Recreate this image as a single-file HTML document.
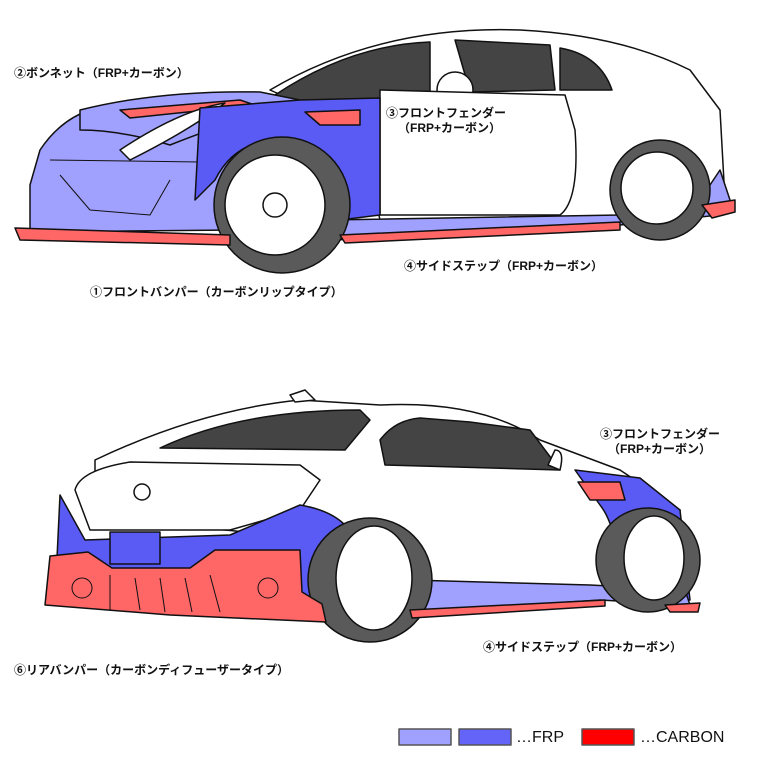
<!DOCTYPE html>
<html><head><meta charset="utf-8"><style>
body{margin:0;background:#fff;width:762px;height:762px;overflow:hidden;font-family:"Liberation Sans","Noto Sans CJK JP",sans-serif}
.t{position:absolute;font-size:12px;font-weight:bold;color:#111;white-space:nowrap;line-height:14px}
</style></head><body>
<svg width="762" height="762" style="position:absolute;left:0;top:0" stroke="#111" stroke-width="1.5" stroke-linejoin="round">
<!-- TOP CAR -->
<path d="M270,90 Q380,25 520,30 Q620,35 690,70 L720,110 L725,200 L700,215 L380,220 L360,130 Z" fill="#fff"/>
<path d="M275,95 Q350,45 430,42 L430,95 L300,105 Z" fill="#444"/>
<path d="M455,40 L550,45 L555,90 L470,92 Z" fill="#444"/>
<path d="M560,48 Q600,55 612,90 L560,90 Z" fill="#444"/>
<circle cx="455" cy="90" r="18" fill="#fff"/>
<path d="M380,90 L380,215 L560,215 Q580,200 575,130 L565,95 Z" fill="#fff"/>
<!-- front bumper light -->
<path d="M40,150 Q60,120 90,110 L230,100 L235,230 L30,232 L30,185 Z" fill="#a0a0ff"/>
<path d="M50,160 L200,162 M60,175 L90,210 L150,215 L170,180" fill="none" stroke-width="1"/>
<!-- hood -->
<path d="M80,110 Q160,90 260,92 L300,100 Q220,125 170,145 Q120,130 80,130 Z" fill="#a0a0ff"/>
<path d="M120,110 L240,100 L255,105 L130,118Z" fill="#ff6666"/>
<path d="M120,150 Q180,110 225,103 Q190,130 130,160Z" fill="#fff"/>
<!-- blue fender -->
<path d="M200,108 L300,100 L380,98 L380,215 L340,220 Q330,150 280,140 Q235,140 215,180 L195,200 Z" fill="#5a5af5"/>
<path d="M305,112 L360,110 L360,125 L320,125Z" fill="#ff6666"/>
<!-- side skirt -->
<path d="M330,220 L620,215 Q640,200 700,200 L720,170 L730,200 L720,215 L620,225 L335,240 Z" fill="#a0a0ff"/>
<!-- wheels -->
<circle cx="282" cy="205" r="68" fill="#5a5a5a"/>
<circle cx="275" cy="205" r="50" fill="#fff"/>
<circle cx="275" cy="205" r="12" fill="#fff"/>
<circle cx="660" cy="190" r="50" fill="#5a5a5a"/>
<circle cx="657" cy="188" r="36" fill="#fff"/>
<!-- red lips -->
<path d="M15,228 L230,235 L230,245 L20,240 Z" fill="#ff6666"/>
<path d="M340,235 L620,222 L620,230 L345,243 Z" fill="#ff6666"/>
<path d="M702,205 L735,200 L735,212 L712,218Z" fill="#ff6666"/>

<!-- BOTTOM CAR -->
<path d="M95,460 Q200,410 300,400 L380,405 Q480,400 540,440 L620,470 L680,510 L680,600 L600,600 L400,610 L330,540 L120,520 L95,490Z" fill="#fff"/>
<path d="M290,395 L305,390 L315,400 L295,402Z" fill="#fff"/>
<path d="M160,448 Q240,410 360,410 L370,420 L345,450 Z" fill="#444"/>
<path d="M380,440 Q395,420 420,418 L470,422 L530,430 L560,470 L385,465 Z" fill="#444"/>
<path d="M548,465 L555,450 Q565,450 560,470 Z" fill="#fff"/>
<path d="M75,490 Q80,470 130,462 L300,465 L320,480 L300,510 L230,530 L90,530 Z" fill="#fff"/>
<circle cx="142" cy="492" r="8" fill="#fff"/>
<!-- blue rear -->
<path d="M60,495 L85,540 L230,535 L300,505 Q330,510 345,525 L330,600 L160,610 L55,600 Z" fill="#5a5af5"/>
<rect x="110" y="532" width="50" height="32" fill="#5a5af5"/>
<!-- front fender blue -->
<path d="M575,470 L640,478 L680,510 L690,600 L620,600 Q620,530 600,505 Z" fill="#5a5af5"/>
<path d="M578,482 L620,482 L625,500 L590,500Z" fill="#ff6666"/>
<!-- side skirt -->
<path d="M410,580 L590,585 L685,590 L690,605 L600,600 L415,612 Z" fill="#a0a0ff"/>
<!-- wheels -->
<circle cx="370" cy="580" r="62" fill="#5a5a5a"/>
<ellipse cx="374" cy="578" rx="38" ry="52" fill="#fff"/>
<circle cx="648" cy="560" r="52" fill="#5a5a5a"/>
<ellipse cx="654" cy="558" rx="30" ry="42" fill="#fff"/>
<!-- diffuser -->
<path d="M50,556 L88,552 L112,568 L190,568 L215,550 L300,550 L302,592 L322,604 L326,622 L170,615 L45,605 Z" fill="#ff6666"/>
<circle cx="82" cy="588" r="10" fill="none" stroke-width="1"/>
<circle cx="268" cy="588" r="10" fill="none" stroke-width="1"/>
<path d="M110,575 L110,610 M135,578 L140,610 M160,578 L165,612 M185,578 L192,612 M210,575 L220,612" fill="none" stroke-width="1"/>
<path d="M410,610 L605,600 L605,606 L412,618Z" fill="#ff6666"/>
<path d="M665,605 L700,603 L698,612 L670,612Z" fill="#ff6666"/>

<!-- legend -->
<rect x="399" y="729" width="52" height="16" fill="#a0a0ff" stroke="#555"/>
<rect x="459" y="729" width="52" height="16" fill="#6464f8" stroke="#555"/>
<rect x="582" y="729" width="52" height="16" fill="#ff0000" stroke="#555"/>
</svg>
<div class="t" style="left:14px;top:66px">②ボンネット（FRP+カーボン）</div>
<div class="t" style="left:386px;top:106px">③フロントフェンダー</div>
<div class="t" style="left:398px;top:121px">（FRP+カーボン）</div>
<div class="t" style="left:404px;top:259px">④サイドステップ（FRP+カーボン）</div>
<div class="t" style="left:90px;top:285px">①フロントバンパー（カーボンリップタイプ）</div>
<div class="t" style="left:600px;top:427px">③フロントフェンダー</div>
<div class="t" style="left:608px;top:442px">（FRP+カーボン）</div>
<div class="t" style="left:483px;top:640px">④サイドステップ（FRP+カーボン）</div>
<div class="t" style="left:14px;top:663px">⑥リアバンパー（カーボンディフューザータイプ）</div>
<div class="t" style="left:516px;top:729px;font-size:16px;line-height:18px;font-weight:normal">…FRP</div>
<div class="t" style="left:640px;top:729px;font-size:16px;line-height:18px;font-weight:normal">…CARBON</div>
</body></html>
